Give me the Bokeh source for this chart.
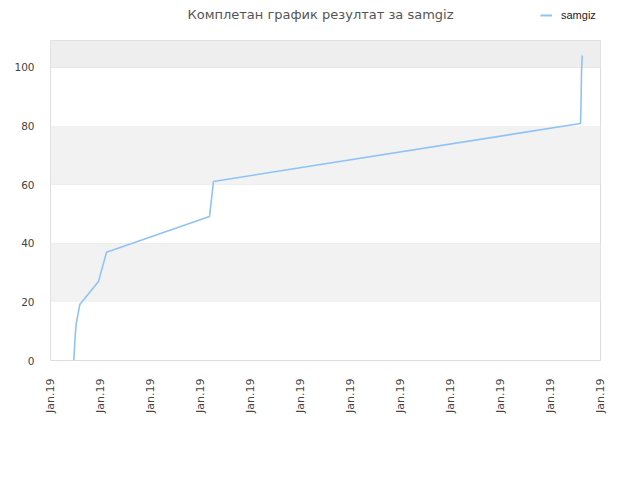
from math import pi
import numpy as np
from bokeh.plotting import figure
from bokeh.layouts import column
from bokeh.models import Range1d, FixedTicker, Legend, LegendItem, BoxAnnotation, Label
from bokeh.embed import file_html
from bokeh.resources import INLINE

title_text = "Комплетан график резултат за samgiz"
series_name = "samgiz"

x_ticks = list(range(12))
x_tick_labels = ["Jan.19"] * 12
y_ticks = [0, 20, 40, 60, 80, 100]

xs = [0.466, 0.49, 0.514, 0.586, 0.96, 1.12, 3.18, 3.26, 10.6, 10.61, 10.62, 10.634]
ys = [0, 7.5, 12.6, 19.1, 27, 36.9, 49.1, 61.1, 80.9, 86.7, 98.3, 104.1]

x_max = 11
y_max = 109.2

W = 624
HEAD_H = 40
LEFT = 50
RIGHT = 600
LINE_COLOR = "#8fc3f5"

# ---- header: title and legend (its frame is aligned with the chart frame) ----
head = figure(width=W, height=HEAD_H, output_backend="svg", toolbar_location=None,
              x_range=Range1d(LEFT, RIGHT), y_range=Range1d(0, HEAD_H),
              x_axis_location=None, y_axis_location=None, title_location=None,
              min_border=0, outline_line_color=None)
head.xgrid.visible = False
head.ygrid.visible = False
head.add_layout(Label(x=320, y=HEAD_H - 14, text=title_text, text_align="center",
                      text_baseline="middle", text_font="DejaVu Sans",
                      text_font_size="13px", text_color="#555555"))
hr = head.line(x=np.array([np.nan]), y=np.array([np.nan]), line_color=LINE_COLOR, line_width=2)
legend = Legend(items=[LegendItem(label=series_name, renderers=[hr])],
                location=(490, 19), padding=0, margin=0, spacing=0,
                glyph_width=12, glyph_height=12, label_height=12,
                label_standoff=9, border_line_color=None,
                background_fill_alpha=0,
                label_text_font="Liberation Sans", label_text_font_size="11px",
                label_text_color="#222222")
head.add_layout(legend, "center")

# ---- main chart ----
p = figure(width=W, height=464 - HEAD_H, output_backend="svg", toolbar_location=None,
           x_range=Range1d(0, x_max), y_range=Range1d(0, y_max), title_location=None,
           min_border_left=LEFT, min_border_right=W - RIGHT, min_border_top=0,
           min_border_bottom=104)

p.outline_line_color = "#dddddd"
p.outline_line_width = 1

for lo, hi, col in [(20, 40, "#f2f2f2"), (60, 80, "#f2f2f2"), (100, y_max, "#eeeeee")]:
    p.add_layout(BoxAnnotation(bottom=lo, top=hi, fill_color=col, fill_alpha=1.0,
                               line_alpha=0, level="underlay"))

p.xgrid.visible = False
p.ygrid.ticker = FixedTicker(ticks=y_ticks)
p.ygrid.grid_line_color = "#e2e2e2"
p.ygrid.grid_line_width = 1

r = p.line(xs, ys, line_color=LINE_COLOR, line_width=1.6)

p.xaxis.ticker = FixedTicker(ticks=x_ticks)
p.xaxis.major_label_overrides = {t: l for t, l in zip(x_ticks, x_tick_labels)}
p.xaxis.major_label_orientation = pi / 2
p.yaxis.ticker = FixedTicker(ticks=y_ticks)
for ax in (p.xaxis[0], p.yaxis[0]):
    ax.axis_line_color = None
    ax.major_tick_line_color = None
    ax.minor_tick_line_color = None
    ax.major_label_text_font = "DejaVu Sans"
    ax.major_label_text_color = "#444444"
    ax.major_label_standoff = 10
p.xaxis.major_label_text_font_size = "11px"
p.yaxis.major_label_text_font_size = "10.5px"
p.xaxis.major_label_standoff = 12

layout = column(head, p, spacing=0)
open("out.html", "w").write(file_html(layout, INLINE))
